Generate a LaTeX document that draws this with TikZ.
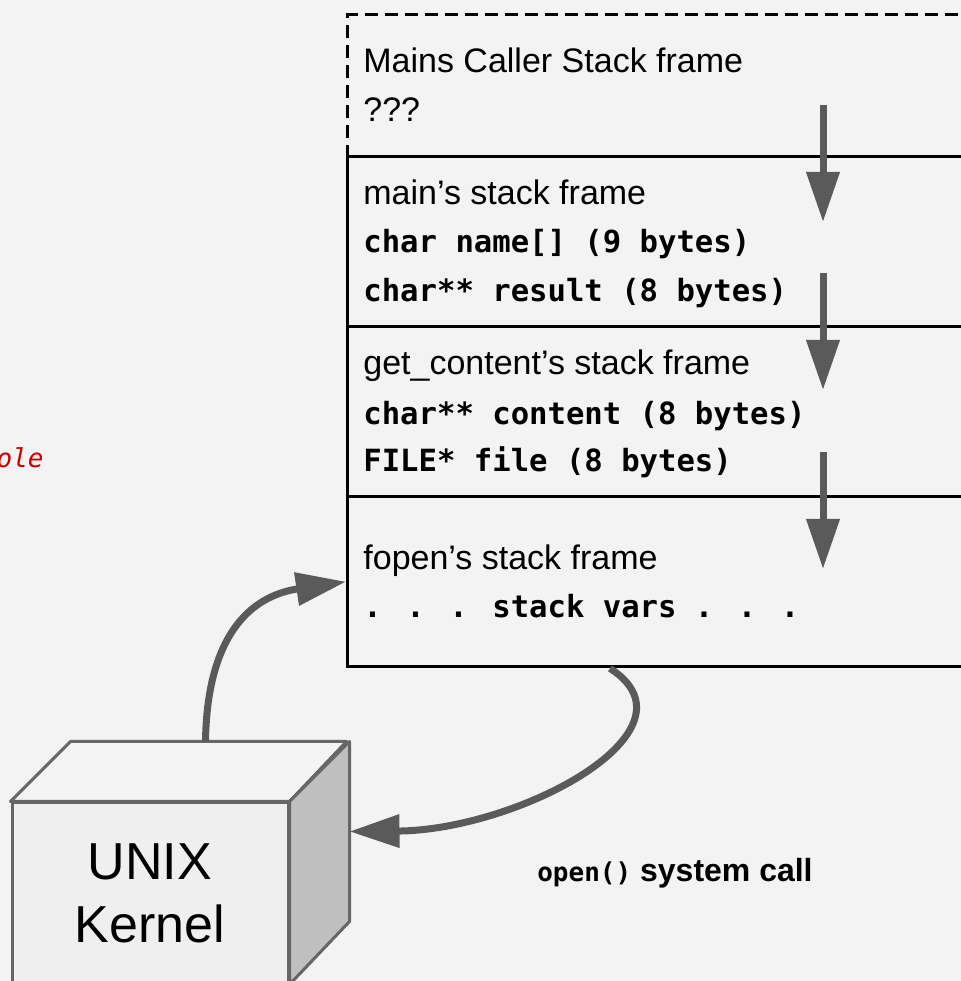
\documentclass[tikz,border=0pt]{standalone}
\usepackage{fontspec}
\setmainfont{Liberation Sans}
\newfontfamily\codefont{DejaVu Sans Mono}
\usepackage{tikz}
\usetikzlibrary{arrows.meta}
\usetikzlibrary{calc}
\definecolor{bggray}{HTML}{F3F3F3}
\definecolor{arrowgray}{HTML}{5A5A5A}
\definecolor{cubeline}{HTML}{666666}
\definecolor{cubefront}{HTML}{EFEFEF}
\definecolor{cubetop}{HTML}{F4F4F4}
\definecolor{cubeside}{HTML}{BFBFBF}
\definecolor{hintred}{HTML}{CC0000}
\tikzstyle{frame}=[draw=black,line width=1.7pt,rectangle,inner sep=0pt,anchor=north west,minimum width=327pt,minimum height=85pt]
\tikzstyle{framelabel}=[anchor=base west,inner sep=0pt,font=\fontsize{17}{20}\selectfont]
\tikzstyle{codelabel}=[anchor=base west,inner sep=0pt,font=\codefont\bfseries\fontsize{15.3}{18}\selectfont]
\tikzstyle{growarrow}=[draw=arrowgray,line width=3.5pt,-{Triangle[length=25pt,width=16pt]}]
\tikzstyle{cubeface}=[draw=cubeline,line width=1.5pt,line join=round]

\begin{document}
\begin{tikzpicture}[x=0.5pt,y=0.5pt]
      \useasboundingbox (0,0) rectangle (961,981);
      \fill[bggray] (0,0) rectangle (961,981);

      % stack frames
      \node[frame,minimum height=71pt,dash pattern=on 6.5pt off 3.5pt] (caller) at (346,968) {};
      \node[frame] (mainfr) at (346,826) {};
      \node[frame] (getc) at (346,656) {};
      \node[frame] (fopen) at (346,486) {};

      \node[framelabel] (callername) at (363,908) {Mains Caller Stack frame};
      \node[framelabel] (callerq) at (363,859) {???};
      \node[framelabel] (mainname) at (363,776) {main’s stack frame};
      \node[codelabel] (mainv1) at (363,728) {char name[] (9 bytes)};
      \node[codelabel] (mainv2) at (363,679) {char** result (8 bytes)};
      \node[framelabel] (getcname) at (363,606) {get\_content’s stack frame};
      \node[codelabel] (getcv1) at (363,556) {char** content (8 bytes)};
      \node[codelabel] (getcv2) at (363,509) {FILE* file (8 bytes)};
      \node[framelabel] (fopenname) at (363,411) {fopen’s stack frame};
      \node[codelabel] (fopenv) at (363,363) {. . . stack vars . . .};

      \foreach \i/\y in {1/876,2/708,3/529}{
        \coordinate (top\i) at (823,\y);
        \coordinate (tip\i) at (823,\y-117);
        \draw[growarrow] (top\i) -- (tip\i);
      }

      % kernel cube
      \node[cubeface,fill=cubefront,inner sep=0pt,minimum width=138pt,minimum height=90pt,
        align=center,font=\fontsize{26}{31.5}\selectfont] (kernel) at (150,88) {UNIX\\Kernel};
      \draw[cubeface,fill=cubetop] (kernel.north west) -- ++(60,60) -- ++(276,0)
        -- (kernel.north east) -- cycle;
      \draw[cubeface,fill=cubeside] (kernel.north east) -- ++(60,60) -- ++(0,-180)
        -- (kernel.south east) -- cycle;

      \coordinate (kerneltop) at ($(kernel.north west)+(195,60)$);
      \coordinate (kernelside) at ($(kernel.north east)+(60,-30)$);
      \coordinate (fopenout) at ($(fopen.south west)+(264,0)$);

      \draw[growarrow] (kerneltop) .. controls (207,345) and (250,385) .. (fopen.west);
      \draw[growarrow] (fopenout) .. controls (706,251) and (520,151) .. (kernelside);

      \node[anchor=base,inner sep=0pt,font=\bfseries\fontsize{16}{19}\selectfont] (syscall)
        at (675,99) {{\codefont\fontsize{13}{16}\selectfont open()} system call};
      \node[anchor=base east,inner sep=0pt,text=hintred,font=\codefont\itshape\fontsize{13}{16}\selectfont]
        (hint) at (44,513) {ole};
\end{tikzpicture}
\end{document}
